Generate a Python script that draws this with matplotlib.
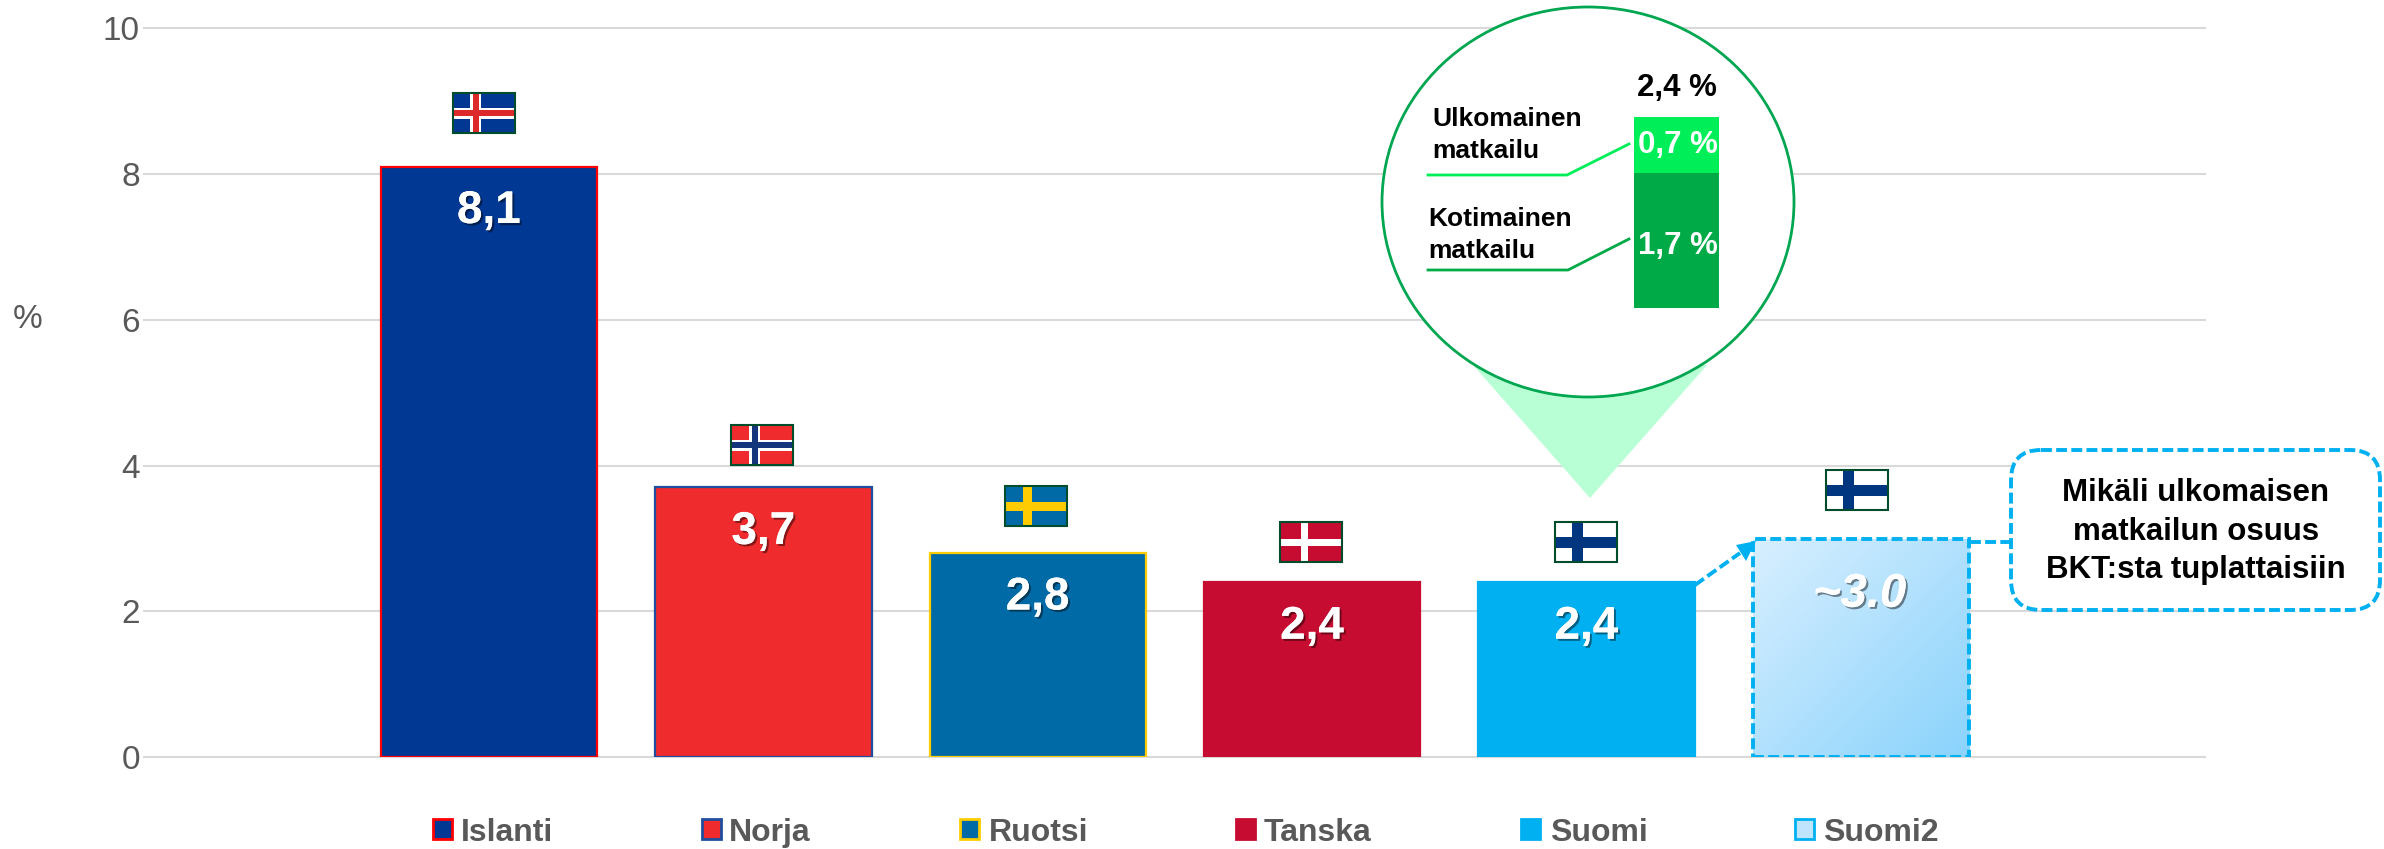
import numpy as np
import matplotlib
matplotlib.use('Agg')
import matplotlib.pyplot as plt
import matplotlib.patheffects as pe
from matplotlib.colors import LinearSegmentedColormap
from matplotlib.patches import Rectangle, Ellipse, Polygon, FancyBboxPatch

plt.rcParams['font.family'] = ['Liberation Sans', 'DejaVu Sans']

W, H = 2384, 849

countries = ['Islanti', 'Norja', 'Ruotsi', 'Tanska', 'Suomi', 'Suomi2']
values = [8.1, 3.7, 2.8, 2.4, 2.4, 3.0]
value_labels = ['8,1', '3,7', '2,8', '2,4', '2,4', '~3.0']
fills = ['#003893', '#EF2B2D', '#006AA7', '#C60C30', '#00B0F0', 'none']
edges = ['#FF0000', '#1F4E9F', '#FECC00', '#C60C30', '#00B0F0', '#00B0F0']
y_ticks = [0, 2, 4, 6, 8, 10]

inset_values = [1.7, 0.7]
inset_labels = ['1,7 %', '0,7 %']
inset_colors = ['#00AB47', '#00EE58']
inset_total = '2,4 %'

callout_lines = ['Mikäli ulkomaisen', 'matkailun osuus', 'BKT:sta tuplattaisiin']

BLUE = '#00B0F0'
GREY = '#595959'
DASH = (0, (2.8, 1.1))
PITCH = 274.4
shadow = [pe.withSimplePatchShadow(offset=(1.5, -1.5), shadow_rgbFace='#000000', alpha=0.45), pe.Normal()]

fig = plt.figure(figsize=(W / 100, H / 100), dpi=100)


def px_axes(x0, y0, x1, y1):
    # pixel box of the reference -> figure fractions
    return [x0 / W, 1 - y1 / H, (x1 - x0) / W, (y1 - y0) / H]


# main bars
ax = fig.add_axes(px_axes(144, 28, 2205, 757.3))
pos = np.arange(len(countries))
bars = ax.bar(pos, values, width=0.788, color=fills, edgecolor=edges, linewidth=1.6, zorder=3)
ax.set_yticks(y_ticks)
ax.set_xticks([])
ax.tick_params(axis='y', length=0, pad=3, labelsize=24, labelcolor=GREY)
ax.grid(axis='y', color='#D9D9D9', linewidth=1.5, zorder=0)
for s in ax.spines.values():
    s.set_visible(False)
for gl in ax.get_ygridlines():
    gl.set_clip_on(False)

# gradient fill for the hypothetical bar
last = bars[-1]
last.set_linestyle(DASH)
last.set_linewidth(2.8)
cmap = LinearSegmentedColormap.from_list('sky', ['#D8EFFF', '#8AD3FC'])
gx, gy = np.meshgrid(np.linspace(0, 1, 100), np.linspace(0, 1, 100))
im = ax.imshow(gx * 0.5 + gy * 0.5, cmap=cmap, aspect='auto', zorder=2, origin='upper',
               extent=(last.get_x(), last.get_x() + last.get_width(), 0, values[-1]))
im.set_clip_path(Rectangle((last.get_x(), 0), last.get_width(), values[-1], transform=ax.transData))
ax.set_xlim((144 - 489) / PITCH, (2205 - 489) / PITCH)
ax.set_ylim(0, 10)

for i, (v, t) in enumerate(zip(values, value_labels)):
    if t.startswith('~'):
        ax.annotate(t, (i, v), xytext=(-1, -40.5), textcoords='offset points', ha='center', va='center',
                    color='white', fontsize=34, fontweight='bold', fontstyle='italic',
                    path_effects=shadow, zorder=5)
    else:
        ax.annotate(t, (i, v), xytext=(0, -32), textcoords='offset points', ha='center', va='center',
                    color='white', fontsize=33, fontweight='bold', path_effects=shadow, zorder=5)

# overlay in reference pixels for flags, callouts and the legend
over = fig.add_axes([0, 0, 1, 1], zorder=2)
over.set_xlim(0, W)
over.set_ylim(H, 0)
over.axis('off')

over.text(28, 320, '%', fontsize=24, color=GREY, ha='center', va='center')


def flag(x0, y0, bg, outer=None, inner=None, w=62, h=40, cross=0.37, ow=11, iw=6):
    over.add_patch(Rectangle((x0, y0), w, h, facecolor=bg, edgecolor='none'))
    cx = x0 + w * cross
    cy = y0 + h / 2
    if outer:
        over.add_patch(Rectangle((cx - ow / 2, y0), ow, h, facecolor=outer, edgecolor='none'))
        over.add_patch(Rectangle((x0, cy - ow / 2), w, ow, facecolor=outer, edgecolor='none'))
    if inner:
        over.add_patch(Rectangle((cx - iw / 2, y0), iw, h, facecolor=inner, edgecolor='none'))
        over.add_patch(Rectangle((x0, cy - iw / 2), w, iw, facecolor=inner, edgecolor='none'))
    over.add_patch(Rectangle((x0, y0), w, h, facecolor='none', edgecolor='#004D2C', linewidth=1.5))


flag(453, 93, '#003893', 'white', '#DC2A2A')
flag(731, 425, '#EF2B2D', 'white', '#14347C', cross=0.385)
flag(1005, 486, '#006AA7', '#FECC00', ow=9)
flag(1280, 522, '#C60C30', 'white', ow=7, cross=0.39)
flag(1555, 522, 'white', '#003580')
flag(1826, 470, 'white', '#003580')

# zoom bubble
over.add_patch(Polygon([(1473, 365), (1707, 365), (1590, 498)], closed=True, facecolor='#B9FFD5', edgecolor='none'))
over.add_patch(Ellipse((1588, 202), 412, 390, facecolor='white', edgecolor='#00A650', linewidth=2))
over.plot([1428, 1567, 1629], [175, 175, 144], color=inset_colors[1], linewidth=2)
over.plot([1428, 1568, 1629], [270, 270, 239], color=inset_colors[0], linewidth=2)
over.text(1432, 126, 'Ulkomainen', fontsize=19, fontweight='bold', va='baseline')
over.text(1432, 158, 'matkailu', fontsize=19, fontweight='bold', va='baseline')
over.text(1428, 226, 'Kotimainen', fontsize=19, fontweight='bold', va='baseline')
over.text(1428, 258, 'matkailu', fontsize=19, fontweight='bold', va='baseline')

# callout box
over.add_patch(FancyBboxPatch((2011 + 30, 450 + 30), 369 - 60, 160 - 60, boxstyle='round,pad=30,rounding_size=30',
                              facecolor='white', edgecolor=BLUE, linewidth=2.8, linestyle=DASH))
for line, y in zip(callout_lines, [493, 532, 570]):
    over.text(2196, y, line, fontsize=22.5, fontweight='bold', ha='center', va='center', color='black')
over.plot([1970, 2011], [542, 542], color=BLUE, linewidth=2.8, linestyle=DASH)
over.plot([1695, 1740], [585, 553], color=BLUE, linewidth=2.8, linestyle=DASH)
over.add_patch(Polygon([(1756, 541), (1736, 545), (1746, 561)], closed=True, facecolor=BLUE, edgecolor='none'))

# legend row
legend_x = [432, 701, 959, 1235, 1520, 1794]
text_x = [461, 729, 989, 1264, 1550, 1823]
for name, fc, ec, mx, tx in zip(countries, fills, edges, legend_x, text_x):
    if fc == 'none':
        fc = '#BFE4FD'
    over.add_patch(Rectangle((mx + 1, 819), 19, 20, facecolor=fc, edgecolor=ec, linewidth=2))
    over.text(tx, 841, name, fontsize=23, fontweight='bold', color=GREY, va='baseline')

# inset stacked bar
inset = fig.add_axes(px_axes(1634, 117, 1719, 308), zorder=3)
inset.bar([0, 0], inset_values, bottom=[0, inset_values[0]], width=1, color=inset_colors)
inset.set_xlim(-0.5, 0.5)
inset.set_ylim(0, sum(inset_values))
inset.axis('off')
bottoms = [0, inset_values[0]]
nudges = [-4, 0]
for b, v, t, n in zip(bottoms, inset_values, inset_labels, nudges):
    inset.annotate(t, (0, b + v / 2), xytext=(1, n), textcoords='offset points', ha='center', va='center',
                   color='white', fontsize=22.5, fontweight='bold', annotation_clip=False)
inset.annotate(inset_total, (0, sum(inset_values)), xytext=(0, 21), textcoords='offset points', ha='center',
               va='center', color='black', fontsize=22.5, fontweight='bold', annotation_clip=False)

fig.savefig('out.png', dpi=100)
